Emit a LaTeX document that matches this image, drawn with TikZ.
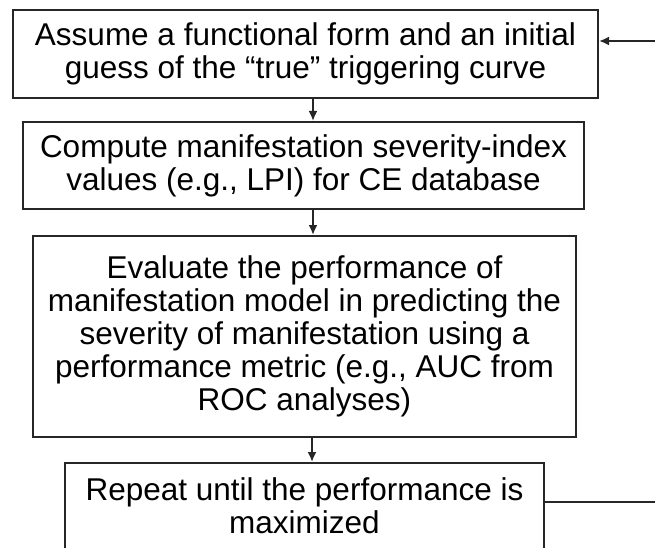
\documentclass[tikz,border=0pt]{standalone}
\usepackage{fontspec}
\setmainfont{Liberation Sans}
\usetikzlibrary{arrows.meta}
\begin{document}
\begin{tikzpicture}[x=1pt,y=-1pt,
  box/.style={draw=black!85, line width=2pt, fill=white, align=center, inner sep=0pt,
    font=\fontsize{31.5}{33}\selectfont, text=black},
  conn/.style={draw=black!85, line width=2pt},
  arr/.style={conn, -{Latex[length=10pt,width=9pt]}}]
\useasboundingbox (0,0) rectangle (655,548);
\clip (0,0) rectangle (655,548);
\node[box, minimum width=585pt, minimum height=88pt] (b1) at (305.5,54)
  {Assume a functional form and an initial\\guess of the “true” triggering curve};
\node[box, minimum width=561pt, minimum height=87pt] (b2) at (303.5,165.5)
  {Compute manifestation severity-index\\values (e.g., LPI) for CE database};
\node[box, minimum width=543pt, minimum height=201pt] (b3) at (304.5,336.5)
  {Evaluate the performance of\\manifestation model in predicting the\\severity of manifestation using a\\performance metric (e.g., AUC from\\ROC analyses)};
\node[box, minimum width=479pt, minimum height=86pt] (b4) at (304.5,506)
  {Repeat until the performance is\\maximized};
\draw[arr] (b1.south -| 313,0) -- (b2.north -| 313,0);
\draw[arr] (b2.south -| 313,0) -- (b3.north -| 313,0);
\draw[arr] (b3.south -| 312,0) -- (b4.north -| 312,0);
\coordinate (r1) at (680,502);
\coordinate (r2) at (680,41);
\draw[conn] (b4.east |- r1) -- (r1) -- (r2);
\draw[arr] (r2) -- (r2 -| b1.east);
\end{tikzpicture}
\end{document}
